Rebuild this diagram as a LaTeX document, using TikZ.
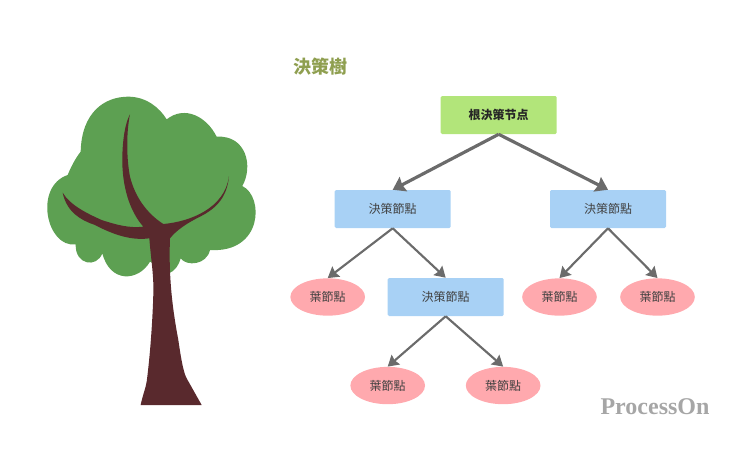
\documentclass[tikz,border=0pt]{standalone}
\usepackage{fontspec}
\setmainfont{Noto Sans CJK TC}
\newfontfamily\markfont{Liberation Serif}
\usetikzlibrary{arrows.meta,shapes.geometric}
\definecolor{rootgreen}{HTML}{B2E57A}
\definecolor{decblue}{HTML}{A8D1F5}
\definecolor{leafpink}{HTML}{FFA9AE}
\definecolor{crowngreen}{HTML}{5DA052}
\definecolor{trunkbrown}{HTML}{59292D}
\definecolor{linegray}{HTML}{6B6B6B}
\definecolor{titleolive}{HTML}{8F9F50}
\tikzset{x=0.75pt,y=-0.75pt,
  rootbox/.style={fill=rootgreen,rounded corners=1pt,minimum width=87pt,minimum height=28.5pt,inner sep=0pt,font=\fontsize{9}{11}\selectfont\bfseries,text=black!85},
  decbox/.style={fill=decblue,rounded corners=1pt,minimum width=87pt,minimum height=28.5pt,inner sep=0pt,font=\fontsize{9}{11}\selectfont,text=black!75},
  leafbox/.style={ellipse,fill=leafpink,minimum width=56pt,minimum height=28pt,inner sep=0pt,font=\fontsize{9}{11}\selectfont,text=black!75},
  bigedge/.style={-{Stealth[length=9pt,width=12pt,inset=1pt]},draw=linegray,line width=2.4pt},
  smalledge/.style={-{Stealth[length=8pt,width=9.5pt,inset=1pt]},draw=linegray,line width=1.6pt}}

\begin{document}
\begin{tikzpicture}
              \useasboundingbox (0,0) rectangle (740,451);

              % tree, in coordinates of the 3x crop
              \begin{scope}[shift={(30,80)},x=0.25pt,y=-0.25pt]
              \fill[crowngreen] (410,118) .. controls (465,75) and (530,110) .. (560,170)
                .. controls (650,165) and (670,260) .. (637,318)
                .. controls (703,350) and (698,520) .. (540,510)
                .. controls (530,555) and (470,560) .. (452,535)
                .. controls (445,560) and (430,575) .. (420,578)
                -- (360,545)
                .. controls (325,605) and (240,610) .. (217,520)
                .. controls (200,565) and (135,555) .. (137,493)
                .. controls (50,505) and (10,320) .. (113,285)
                .. controls (125,255) and (140,230) .. (152,215)
                .. controls (155,95) and (225,50) .. (295,50)
                .. controls (350,50) and (390,85) .. (410,118) -- cycle;
              \fill[trunkbrown] (332,975) .. controls (338,945) and (347,925) .. (350,905)
                .. controls (360,830) and (368,720) .. (370,640)
                .. controls (372,590) and (362,530) .. (358,475)
                .. controls (320,480) and (270,475) .. (195,435)
                .. controls (150,420) and (110,395) .. (98,338)
                .. controls (120,375) and (170,400) .. (215,420)
                .. controls (260,435) and (300,445) .. (340,440)
                .. controls (300,395) and (275,320) .. (277,230)
                .. controls (278,180) and (285,130) .. (300,103)
                .. controls (288,160) and (290,240) .. (300,290)
                .. controls (315,350) and (350,400) .. (400,432)
                .. controls (480,425) and (585,385) .. (597,288)
                .. controls (592,350) and (560,385) .. (510,410)
                .. controls (470,430) and (440,450) .. (420,475)
                .. controls (415,600) and (430,700) .. (445,780)
                .. controls (455,850) and (462,880) .. (470,895)
                -- (515,975) -- cycle;
              \end{scope}

              \node[font=\fontsize{13.5}{15}\selectfont\bfseries,text=titleolive] (title) at (320,67) {決策樹};

              \node[rootbox] (root) at (498.7,115) {根決策节点};
              \node[decbox,node distance=70.5pt] (dec1) [below of=root,xshift=-79.5pt] {決策節點};
              \node[decbox,node distance=70.5pt] (dec2) [below of=root,xshift=82pt] {決策節點};

              \node[leafbox,node distance=66pt] (leaf1) [below of=dec1,xshift=-48.75pt] {葉節點};
              \node[decbox,node distance=66pt] (dec3) [below of=dec1,xshift=39.75pt] {決策節點};
              \node[leafbox,node distance=66pt] (leaf2) [below of=dec2,xshift=-36.4pt] {葉節點};
              \node[leafbox,node distance=66pt] (leaf3) [below of=dec2,xshift=37.1pt] {葉節點};

              \node[leafbox,node distance=66.4pt] (leaf4) [below of=dec3,xshift=-43.5pt] {葉節點};
              \node[leafbox,node distance=66.4pt] (leaf5) [below of=dec3,xshift=43.1pt] {葉節點};

              \node[font=\fontsize{18}{20}\markfont\bfseries,text=black!35] (mark) at (655,407) {ProcessOn};

              \path
              (root.south) edge [bigedge] (dec1.north)
              (root.south) edge [bigedge] (dec2.north)

              (dec1.south) edge [smalledge] (leaf1.north)
              (dec1.south) edge [smalledge] (dec3.north)

              (dec2.south) edge [smalledge] (leaf2.north)
              (dec2.south) edge [smalledge] (leaf3.north)

              (dec3.south) edge [smalledge] (leaf4.north)
              (dec3.south) edge [smalledge] (leaf5.north)
              ;
            \end{tikzpicture}
\end{document}
